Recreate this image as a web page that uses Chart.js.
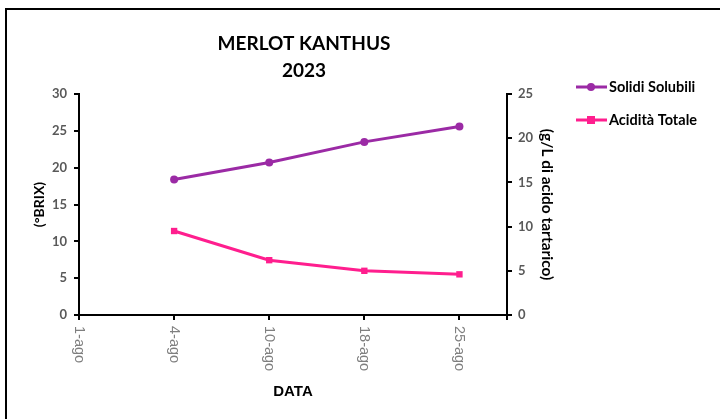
<!DOCTYPE html>
<html>
<head>
<meta charset="utf-8">
<script src="https://cdn.jsdelivr.net/npm/chart.js@4"></script>
<style>
  body { margin: 0; background: #fff; }
  #wrap { position: relative; width: 720px; height: 419px; }
</style>
</head>
<body>
<div id="wrap"><canvas id="chart"></canvas></div>
<script>
const dates = ['1-ago', '4-ago', '10-ago', '18-ago', '25-ago']
const solidiSolubili = [null, 18.4, 20.7, 23.5, 25.6]
const aciditaTotale = [null, 9.5, 6.2, 5.0, 4.6]
const titleLines = ['MERLOT KANTHUS', '2023']
const brixTicks = [0, 30, 5]
const acidTicks = [0, 25, 5]

const purple = '#9B2AA5'
const pink = '#FF1E8E'
const gray = '#595959'

function toPoints(values) {
    return values.map((v, i) => ({x: i, y: v})).filter(p => p.y !== null)
}

const extras = {
    id: 'extras',
    beforeDraw(chart) {
        const ctx = chart.ctx
        ctx.save()
        ctx.strokeStyle = '#000'
        ctx.lineWidth = 2
        ctx.strokeRect(6, 9, 800, 500)
        ctx.restore()
    },
    afterDraw(chart) {
        const ctx = chart.ctx
        const x = chart.scales.x
        ctx.save()
        // title
        ctx.fillStyle = '#000'
        ctx.font = 'bold 19px Lato'
        ctx.textAlign = 'center'
        ctx.textBaseline = 'middle'
        ctx.fillText(titleLines[0], 304, 44)
        ctx.fillText(titleLines[1], 304, 71)
        // x labels, rotated clockwise
        ctx.fillStyle = '#7f7f7f'
        ctx.font = '14.5px "Liberation Sans"'
        ctx.textAlign = 'left'
        dates.forEach((d, i) => {
            ctx.save()
            ctx.translate(x.getPixelForValue(i), x.top + 11)
            ctx.rotate(Math.PI / 2)
            ctx.fillText(d, 0, 0)
            ctx.restore()
        })
        // legend
        chart.data.datasets.forEach((ds, i) => {
            const y = 87 + i * 33
            ctx.strokeStyle = ds.borderColor
            ctx.lineWidth = 3
            ctx.beginPath()
            ctx.moveTo(576, y)
            ctx.lineTo(607, y)
            ctx.stroke()
            ctx.fillStyle = ds.borderColor
            if (ds.pointStyle === 'rect') {
                ctx.fillRect(587, y - 4, 8, 8)
            } else {
                ctx.beginPath()
                ctx.arc(591, y, 4, 0, Math.PI * 2)
                ctx.fill()
            }
            ctx.fillStyle = '#000'
            ctx.font = 'bold 14.5px Lato'
            ctx.textAlign = 'left'
            ctx.textBaseline = 'middle'
            ctx.fillText(ds.label, 609, y)
        })
        ctx.restore()
    }
}

new Chart(document.getElementById('chart'), {
    type: 'line',
    data: {
        datasets: [
            {
                label: 'Solidi Solubili',
                data: toPoints(solidiSolubili),
                yAxisID: 'y',
                borderColor: purple,
                backgroundColor: purple,
                borderWidth: 3,
                pointStyle: 'circle',
                pointRadius: 4,
                pointBorderWidth: 0
            },
            {
                label: 'Acidità Totale',
                data: toPoints(aciditaTotale),
                yAxisID: 'y1',
                borderColor: pink,
                backgroundColor: pink,
                borderWidth: 3,
                pointStyle: 'rect',
                pointRadius: 4.5,
                pointBorderWidth: 0
            }
        ]
    },
    options: {
        responsive: true,
        maintainAspectRatio: false,
        animation: false,
        layout: {padding: {top: 94, right: 160, left: 0, bottom: 0}},
        plugins: {legend: {display: false}, tooltip: {enabled: false}},
        scales: {
            x: {
                type: 'linear',
                min: 0,
                max: dates.length - 0.5,
                border: {color: '#000', width: 2},
                grid: {drawOnChartArea: false, drawTicks: true, tickLength: 5, color: '#000', lineWidth: 2},
                ticks: {display: false, stepSize: 1},
                title: {display: true, text: 'DATA', color: '#000', font: {family: 'Liberation Sans', size: 15, weight: 'bold'}, padding: {top: 0, bottom: 18}},
                afterFit(scale) { scale.height = 104 }
            },
            y: {
                position: 'left',
                min: brixTicks[0],
                max: brixTicks[1],
                border: {color: '#000', width: 2},
                grid: {drawOnChartArea: false, tickLength: 5, color: '#000', lineWidth: 2},
                ticks: {stepSize: brixTicks[2], padding: 7, color: gray, font: {family: 'Lato', size: 13, weight: 'bold'}},
                title: {display: true, text: '(°BRIX)', color: '#000', font: {family: 'Lato', size: 14, weight: 'bold'}, padding: {top: 31, bottom: 0}},
                afterFit(scale) { scale.width = 79 }
            },
            y1: {
                position: 'right',
                min: acidTicks[0],
                max: acidTicks[1],
                border: {color: '#000', width: 2},
                grid: {drawOnChartArea: false, tickLength: 5, color: '#000', lineWidth: 2},
                ticks: {stepSize: acidTicks[2], padding: 6, color: gray, font: {family: 'Lato', size: 13, weight: 'bold'}},
                title: {display: true, text: '(g/L di acido tartarico)', color: '#000', font: {family: 'Lato', size: 15.5, weight: 'bold'}, padding: {top: 4, bottom: 0}},
                afterFit(scale) { scale.width = 53 }
            }
        }
    },
    plugins: [extras]
})
</script>
</body>
</html>
